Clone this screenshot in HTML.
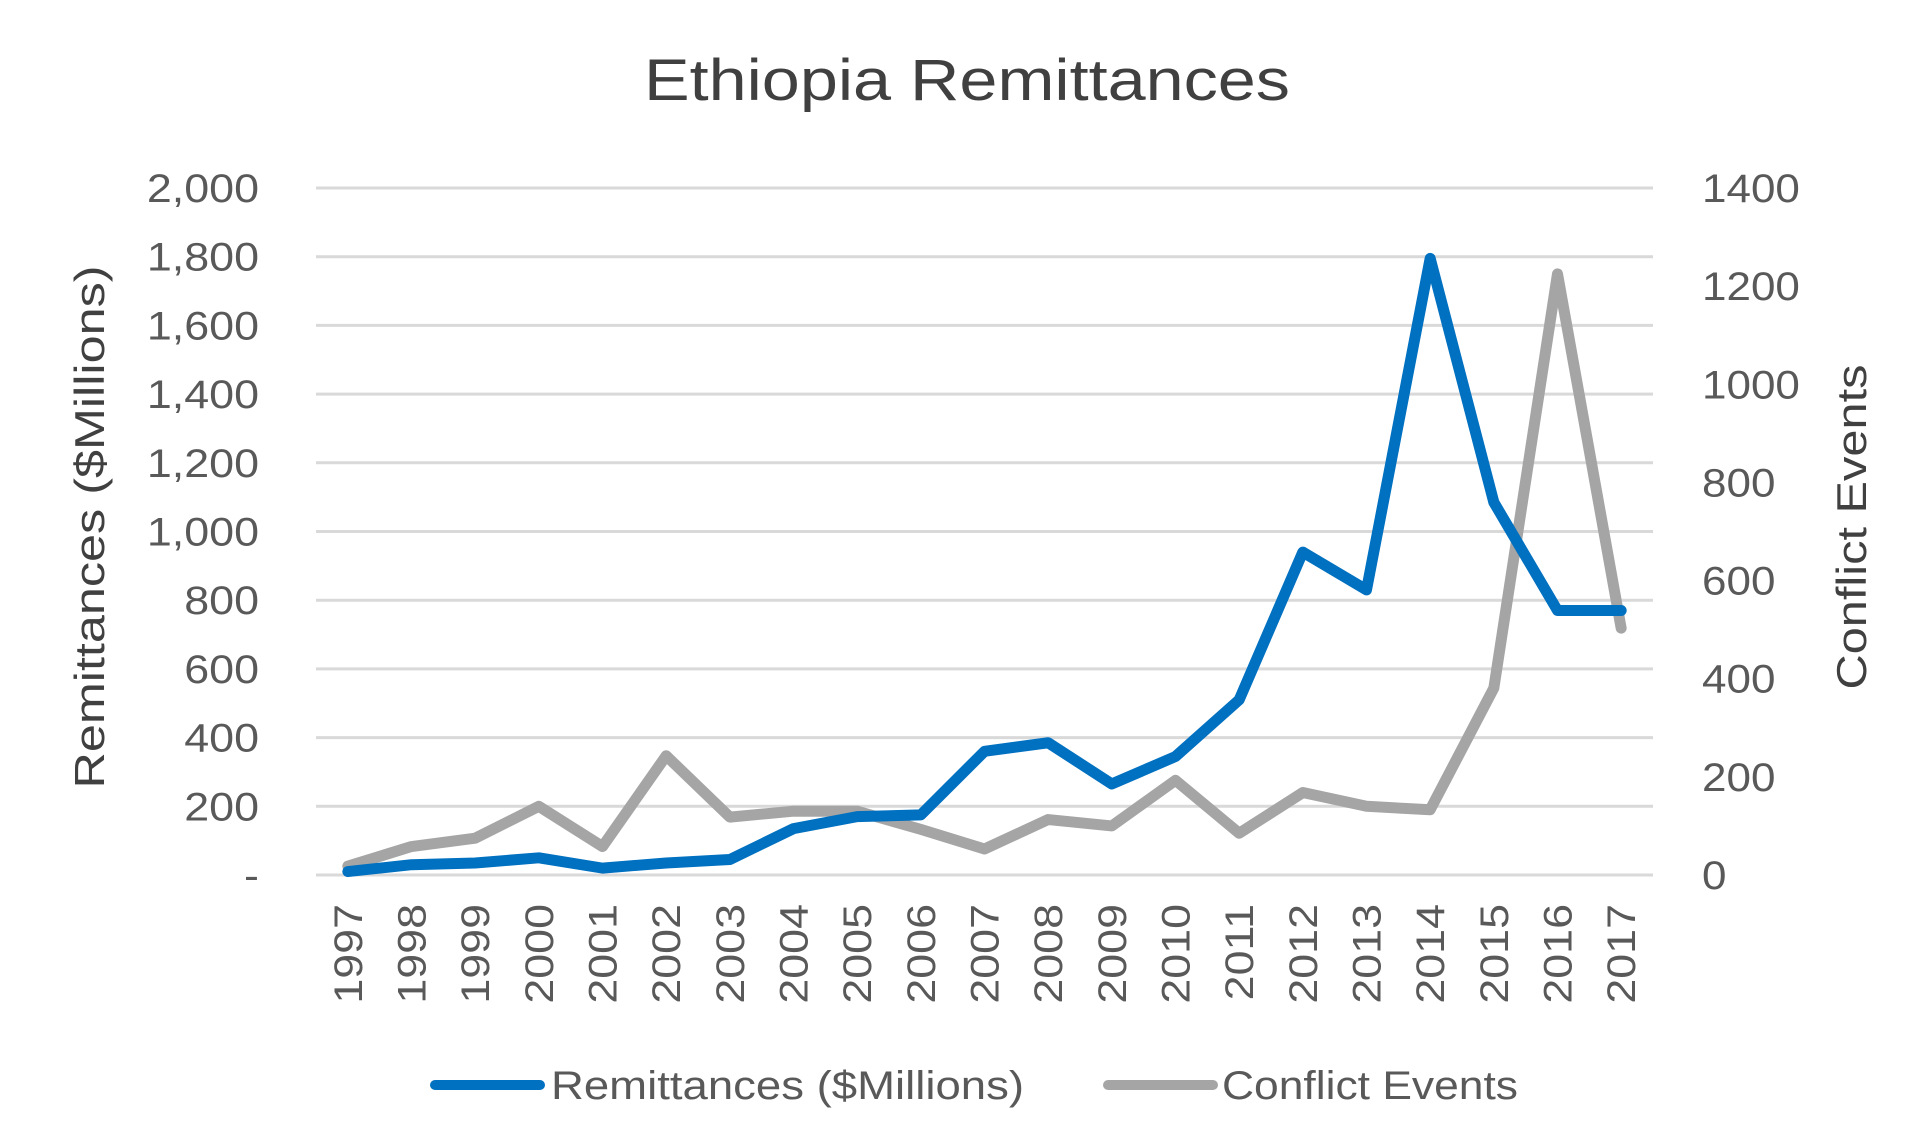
<!DOCTYPE html>
<html><head><meta charset="utf-8"><style>
html,body{margin:0;padding:0;background:#fff;}
svg{display:block;font-family:"Liberation Sans",sans-serif;}
</style></head><body>
<svg id="chart" width="1920" height="1138">
<text x="967" y="100" text-anchor="middle" font-size="58" fill="#404040" textLength="646" lengthAdjust="spacingAndGlyphs">Ethiopia Remittances</text>
<g id="grid"></g>
<g id="yleft"></g>
<g id="yright"></g>
<g id="xaxis"></g>
<g id="series"></g>
<text transform="translate(104,527) rotate(-90)" text-anchor="middle" font-size="42" fill="#404040" textLength="523" lengthAdjust="spacingAndGlyphs">Remittances ($Millions)</text>
<text transform="translate(1866,527) rotate(-90)" text-anchor="middle" font-size="42" fill="#404040" textLength="325" lengthAdjust="spacingAndGlyphs">Conflict Events</text>
<g>
<g>
<line x1="435" y1="1085" x2="540" y2="1085" stroke="#0070C0" stroke-width="10" stroke-linecap="round"/>
<text x="551" y="1099" font-size="40" fill="#595959" textLength="473" lengthAdjust="spacingAndGlyphs">Remittances ($Millions)</text>
</g>
<g>
<line x1="1108" y1="1085" x2="1213" y2="1085" stroke="#A5A5A5" stroke-width="10" stroke-linecap="round"/>
<text x="1222" y="1099" font-size="40" fill="#595959" textLength="296" lengthAdjust="spacingAndGlyphs">Conflict Events</text>
</g>
</g>
</svg>
<script>
const years=["1997","1998","1999","2000","2001","2002","2003","2004","2005","2006","2007","2008","2009","2010","2011","2012","2013","2014","2015","2016","2017"];
const remittances=[10,30,35,50,20,35,45,135,170,175,360,385,265,345,510,940,830,1795,1085,770,770];
const conflictEvents=[18,58,75,140,58,243,118,130,130,93,53,113,100,193,85,168,140,133,381,1225,503];
const leftTicks=[0,200,400,600,800,1000,1200,1400,1600,1800,2000];
const leftTickLabels=["-","200","400","600","800","1,000","1,200","1,400","1,600","1,800","2,000"];
const rightTicks=[0,200,400,600,800,1000,1200,1400];
const NS="http://www.w3.org/2000/svg";
const L=316,R=1653,T=188,B=875;
const step=(R-L)/years.length;
const xPos=i=>L+step*(i+0.5);
const yL=v=>B-(v/2000)*(B-T);
const yR=v=>B-(v/1400)*(B-T);
function mk(tag,attrs,parent){const e=document.createElementNS(NS,tag);for(const k in attrs)e.setAttribute(k,attrs[k]);parent.appendChild(e);return e;}
function stretch(t,k){const w=t.getComputedTextLength();t.setAttribute('textLength',w*k);t.setAttribute('lengthAdjust','spacingAndGlyphs');}
const grid=document.getElementById('grid'),yl=document.getElementById('yleft'),yr=document.getElementById('yright'),xa=document.getElementById('xaxis'),se=document.getElementById('series');
leftTicks.forEach((v,i)=>{
 const g=mk('line',{x1:L,x2:R,y1:yL(v),y2:yL(v),stroke:'#D9D9D9','stroke-width':3},grid);
 
 
 const t=mk('text',{x:259,y:yL(v)+14,'text-anchor':'end','font-size':40,fill:'#595959'},yl);
 t.textContent=leftTickLabels[i];
 
 
 stretch(t,1.12);
});
rightTicks.forEach(v=>{
 const t=mk('text',{x:1702,y:yR(v)+14,'text-anchor':'start','font-size':40,fill:'#595959'},yr);
 t.textContent=String(v);
 
 
 stretch(t,1.1);
});
years.forEach((y,i)=>{
 const t=mk('text',{transform:`translate(${xPos(i)+14},${904}) rotate(-90)`,'text-anchor':'end','font-size':40,fill:'#595959'},xa);
 t.textContent=y;
 
 
 stretch(t,1.12);
});
const pc=conflictEvents.map((v,i)=>xPos(i)+','+yR(v)).join(' ');
const p1=mk('polyline',{points:pc,fill:'none',stroke:'#A5A5A5','stroke-width':11,'stroke-linejoin':'round','stroke-linecap':'round'},se);


const pr=remittances.map((v,i)=>xPos(i)+','+yL(v)).join(' ');
const p2=mk('polyline',{points:pr,fill:'none',stroke:'#0070C0','stroke-width':11,'stroke-linejoin':'round','stroke-linecap':'round'},se);


</script>
</body></html>
